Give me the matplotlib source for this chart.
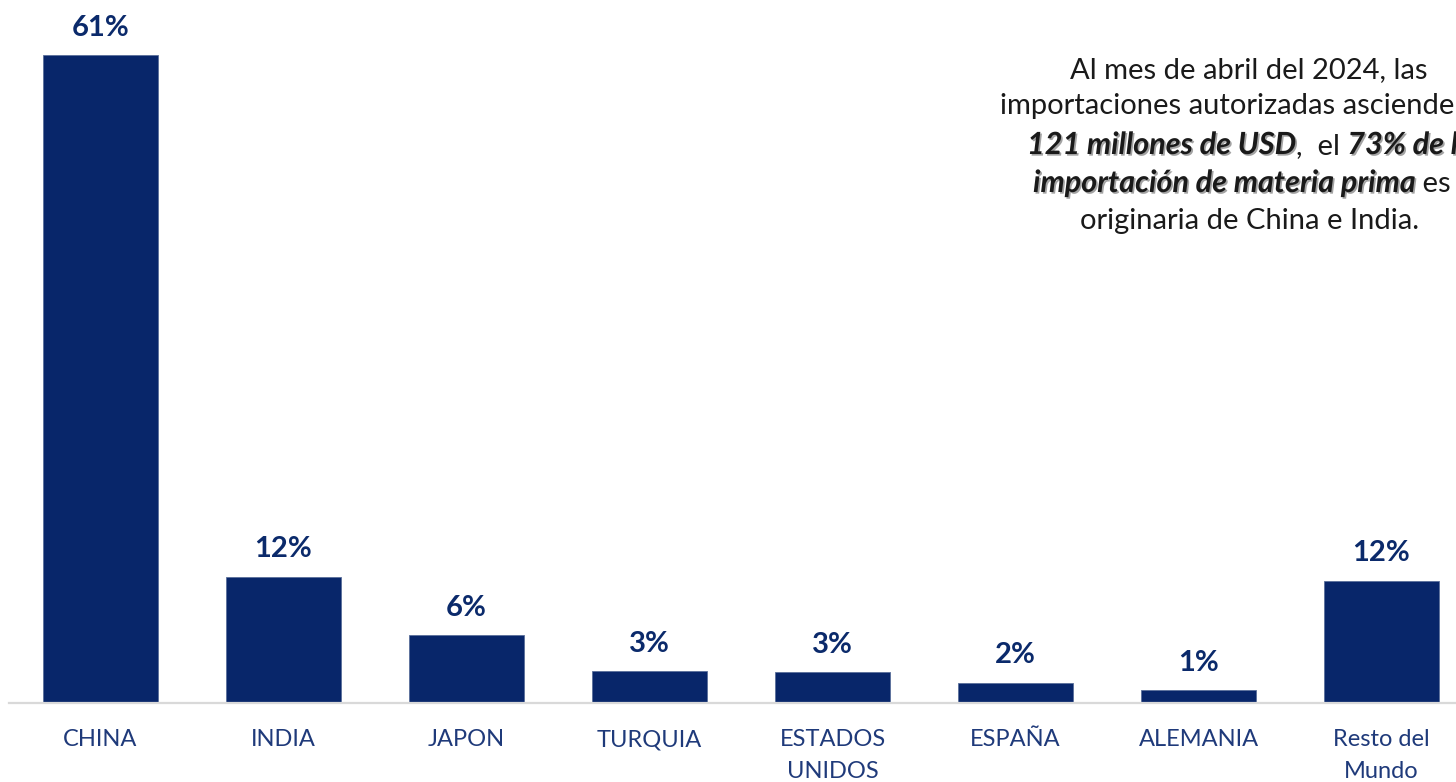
import matplotlib.pyplot as plt
import matplotlib.patheffects as pe

# datos
paises = ['CHINA', 'INDIA', 'JAPON', 'TURQUIA', 'ESTADOS\nUNIDOS',
          'ESPAÑA', 'ALEMANIA', 'Resto del\nMundo']
participacion = [61.0, 11.9, 6.4, 3.0, 2.9, 1.9, 1.2, 11.5]
etiquetas = ['61%', '12%', '6%', '3%', '3%', '2%', '1%', '12%']

AZUL = '#08266a'
TEXTO = '#1a1a1a'
FONT = 'Lato'

W, H = 1456, 782
fig = plt.figure(figsize=(W / 100, H / 100), dpi=100)
# el eje se sale por la derecha (grafico recortado)
ax = fig.add_axes([9 / W, 79 / H, 1464 / W, 703 / H])

x = range(len(paises))
bars = ax.bar(x, participacion, width=0.628, color=AZUL,
              edgecolor='#5a6f9a', linewidth=0.6)
ax.set_xlim(-0.5, len(paises) - 0.5)
ax.set_ylim(0, 703 / 10.62)

for b, lab in zip(bars, etiquetas):
    ax.annotate(lab, (b.get_x() + b.get_width() / 2, b.get_height()),
                xytext=(0, 14), textcoords='offset points',
                ha='center', va='baseline', fontsize=21,
                fontweight='bold', color='#0b2a6b', family=FONT)

ax.set_xticks(list(x))
ax.set_xticklabels(paises, fontsize=17, color='#1f3a7a', family=FONT,
                   linespacing=1.6)
ax.tick_params(axis='x', length=0, pad=19)
ax.set_yticks([])
for s in ['top', 'left', 'right']:
    ax.spines[s].set_visible(False)
ax.spines['bottom'].set_color('#d9d9d9')
ax.spines['bottom'].set_linewidth(1.6)

# cuadro de texto (recortado por la derecha)
sombra = [pe.withSimplePatchShadow(offset=(1.2, -1.2), shadow_rgbFace='#666666', alpha=0.6)]
lineas = [
    (1070, 70, [('Al mes de abril del 2024, las', False)]),
    (1000, 106, [('importaciones autorizadas ascienden a', False)]),
    (1027, 145, [('121 millones de USD', True), (',  el ', False), ('73% de la', True)]),
    (1033, 183, [('importación de materia prima', True), (' es', False)]),
    (1080, 221, [('originaria de China e India.', False)]),
]
for x0, y0, partes in lineas:
    prev = None
    for txt, bold in partes:
        kw = dict(fontsize=21, color=TEXTO, family=FONT)
        if bold:
            kw.update(fontsize=22, fontweight='bold', fontstyle='italic',
                      path_effects=sombra)
        if prev is None:
            prev = fig.text(x0 / W, 1 - y0 / H, txt, ha='left', va='center', **kw)
        else:
            # cada trozo va pegado a la derecha del anterior
            prev = ax.annotate(txt, xy=(1, 0), xycoords=prev, ha='left', va='bottom',
                               annotation_clip=False, **kw)

plt.savefig('out.png', dpi=100)
